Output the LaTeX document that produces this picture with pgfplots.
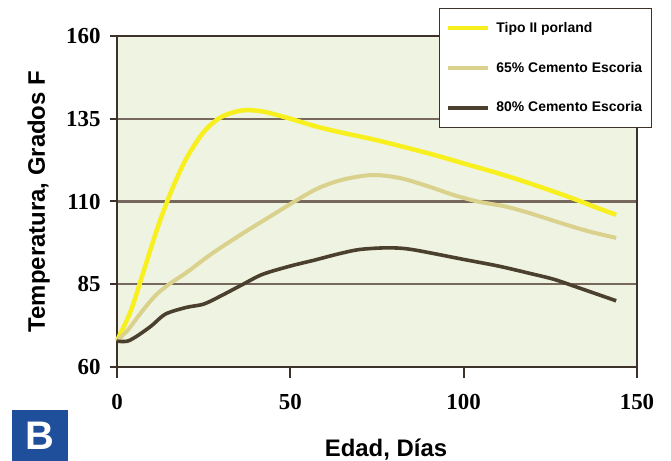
\documentclass[border=0pt]{standalone}
\usepackage{pgfplots}
\pgfplotsset{compat=1.18}
\usepackage{fontspec}
\setmainfont{Liberation Serif}
\setsansfont{Liberation Sans}
\definecolor{bgc}{RGB}{238,243,226}
\definecolor{gridc}{RGB}{118,104,92}
\definecolor{axc}{RGB}{60,50,42}
\definecolor{yel}{RGB}{248,240,30}
\definecolor{kha}{RGB}{218,210,140}
\definecolor{brn}{RGB}{75,64,46}
\definecolor{bblue}{RGB}{31,78,154}
\begin{document}
\begin{tikzpicture}
\path[use as bounding box] (-117bp,-94bp) rectangle (554bp,367bp);
\begin{axis}[
  at={(0,0)}, anchor=south west,
  scale only axis, width=520bp, height=331bp,
  xmin=0, xmax=150, ymin=60, ymax=160,
  xtick={0,50,100,150}, ytick={60,85,110,135,160},
  major tick length=0pt,
  axis line style={axc, line width=1.8bp},
  axis background/.style={fill=bgc},
  clip=false,
  ymajorgrids, major grid style={gridc, line width=2.4bp},
  /pgf/number format/assume math mode=true,
  tick label style={font=\fontsize{23}{25}\selectfont\bfseries},
  xticklabel style={yshift=-24bp},
  yticklabel style={xshift=-13bp},
  xlabel={Edad, Días}, ylabel={Temperatura, Grados F},
  label style={font=\sffamily\bfseries\fontsize{24}{26}\selectfont, inner sep=0pt},
  xlabel style={at={(rel axis cs:0.5,0)}, anchor=north, yshift=-72bp, xshift=9bp},
  ylabel style={at={(rel axis cs:0,0.5)}, anchor=south, yshift=67bp},
  legend style={at={(rel axis cs:0.619,1.0846)}, anchor=north west,
    draw=axc, line width=1.2bp, fill=white,
    font=\sffamily\bfseries\fontsize{14}{16}\selectfont,
    inner xsep=7bp, inner ysep=12bp, row sep=24bp,
    /tikz/every odd column/.append style={column sep=4bp}},
  legend cell align=left,
  legend image code/.code={\draw[#1, line width=4bp] (0bp,0bp) -- (40bp,0bp);},
]
\addplot[yel, line width=4.5bp, smooth] coordinates {
(0,68) (4,77) (8,90) (12,103) (16,114) (20,123) (25,131) (30,135.5) (36,137.5)
(42,137.2) (50,135) (57,132.8) (64,131) (75,128.5)
(90,124.5) (100,121.5) (110,118.5) (119,115.5) (130,111.5) (140,107.5) (144,106)};
\addlegendentry{Tipo II porland}
\addplot[kha, line width=4bp, smooth] coordinates {
(0,68) (3,71) (7,76.5) (11,81.5) (15,85) (20,88.5) (27,94) (33.5,98.5) (38,101.5)
(45,106) (52,110.5) (58,114) (64,116.3) (70,117.6) (75,118) (82,117) (90,114.5)
(97,112) (104,110) (112,108.5) (119,106.5) (128,103.5) (136,101) (144,99)};
\addlegendentry{65\% Cemento Escoria}
\addplot[brn, line width=3.6bp, smooth] coordinates {
(0,67.8) (3,67.8) (6,69.5) (10,72.5) (14,76) (20,78) (25,79) (30,81.5) (36,84.8)
(42,88) (50,90.5) (57,92.3) (64,94.2) (70,95.5) (78,96) (85,95.5) (100,92.5)
(110,90.5) (119,88.3) (126,86.5) (133,84) (144,80)};
\addlegendentry{80\% Cemento Escoria}
\end{axis}
\foreach \xx in {0,173.333,346.667,520} {
  \draw[axc, line width=2bp] (\xx bp,0bp) -- (\xx bp,-11bp);
}
\foreach \yy in {0,82.75,165.5,248.25,331} {
  \draw[axc, line width=2bp] (0bp,\yy bp) -- (-7bp,\yy bp);
}
\fill[bblue] (-105bp,-94bp) rectangle (-49bp,-43bp);
\node[text=white, font=\sffamily\bfseries\fontsize{40}{40}\selectfont, inner sep=0pt, anchor=base] at (-77bp,-82bp) {B};
\end{tikzpicture}
\end{document}
